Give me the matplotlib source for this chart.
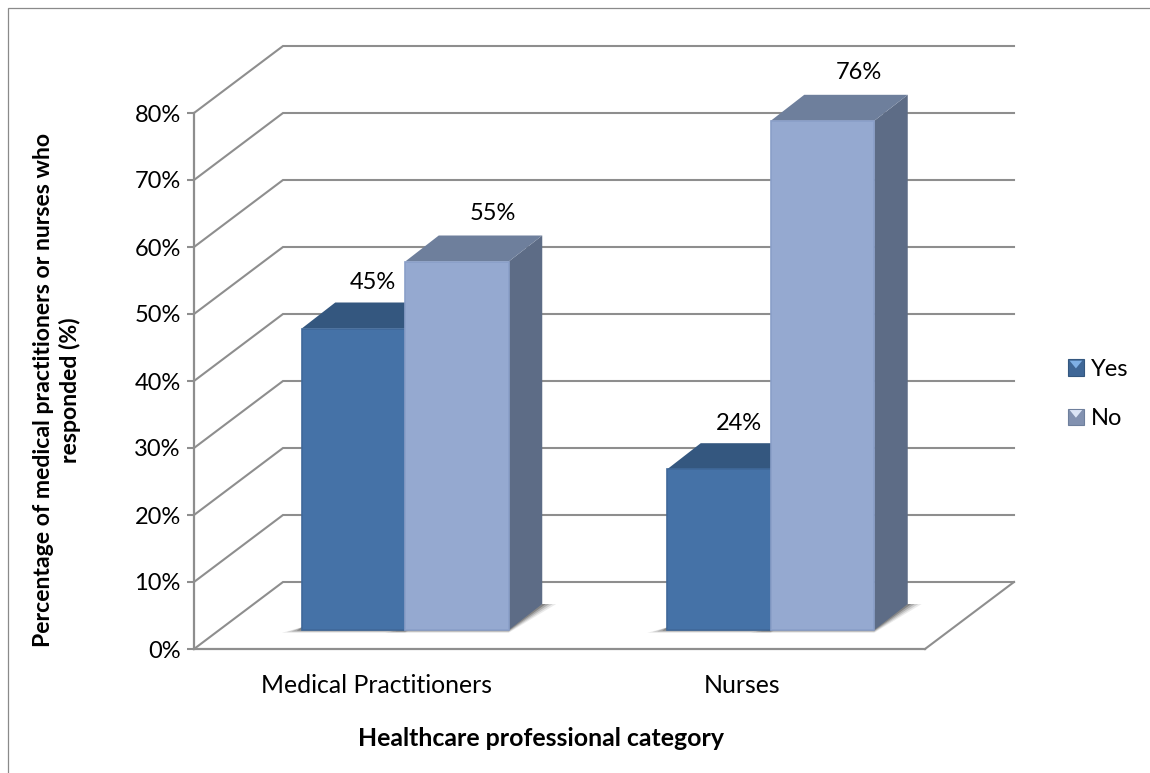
import matplotlib
matplotlib.use("Agg")
import matplotlib.pyplot as plt
from matplotlib.legend_handler import HandlerBase
from matplotlib.patches import Patch, Polygon, Rectangle

categories = ["Medical Practitioners", "Nurses"]
yes_values = [45, 24]
no_values = [55, 76]
grid_levels = [0, 10, 20, 30, 40, 50, 60, 70, 80]
y_ticks = [0, 10, 20, 30, 40, 50, 60, 70, 80]

plt.rcParams["font.family"] = ["Lato", "DejaVu Sans"]

W, H = 1150, 773
PX = 731 / 2      # px per category
PY = 536 / 80     # px per percent

wall_dx, wall_dy = 89 / PX, 67 / PY
floor_dx, floor_dy = 28.5 / PX, 19 / PY
bar_dx, bar_dy = 33.5 / PX, 26 / PY
bar_w = 103.5 / PX

GRID = "#8e8e8e"
FS = 17

fig = plt.figure(figsize=(W / 100, H / 100), dpi=100)
ax = fig.add_axes([194 / W, (H - 649) / H, 731 / W, 536 / H])
ax.set_xlim(0, 2)
ax.set_ylim(0, 80)
ax.set_facecolor("none")

# outer frame of the pasted chart
fig.add_artist(Rectangle((7.5 / W, -0.1), 1.2, (H - 8) / H + 0.1, transform=fig.transFigure,
                         fill=False, ec="#8a8a8a", lw=0.9))

# back wall and floor
for v in grid_levels:
    ax.plot([0, wall_dx, 2 + wall_dx], [v, v + wall_dy, v + wall_dy],
            color=GRID, lw=1.5, clip_on=False, zorder=1, solid_joinstyle="miter")
ax.plot([2, 2 + wall_dx], [0, wall_dy], color=GRID, lw=1.5, clip_on=False, zorder=1)


def draw_bar(x, v, front, top, side, edge, z):
    y0 = floor_dy
    # soft floor shadow
    for grow, a in [(20, 0.10), (15, 0.16), (10, 0.24), (5, 0.36)]:
        g = grow / PX
        s = grow / PY * 0.14
        ax.add_patch(Polygon([(x - g, y0 - s), (x + bar_w, y0 - s),
                              (x + bar_w + bar_dx + g * 0.7, y0 + bar_dy),
                              (x + bar_w + bar_dx, y0 + bar_dy), (x, y0 + 0.4)],
                             fc="#404040", ec="none", alpha=a, clip_on=False, zorder=z - 1))
    ax.add_patch(Polygon([(x + bar_w, y0), (x + bar_w + bar_dx, y0 + bar_dy),
                          (x + bar_w + bar_dx, y0 + v + bar_dy), (x + bar_w, y0 + v)],
                         fc=side, ec="none", clip_on=False, zorder=z))
    ax.add_patch(Polygon([(x, y0 + v), (x + bar_w, y0 + v),
                          (x + bar_w + bar_dx, y0 + v + bar_dy), (x + bar_dx, y0 + v + bar_dy)],
                         fc=top, ec="none", clip_on=False, zorder=z))
    ax.bar(x, v, bar_w, bottom=y0, align="edge", color=front, edgecolor=edge, linewidth=1.2,
           clip_on=False, zorder=z + 0.5)


DARK = dict(front="#4572a7", top="#34577f", side="#34577f", edge="#3f6899")
LIGHT = dict(front="#95a9d0", top="#6e7f9c", side="#5d6c86", edge="#8a9fc8")

for i, cat in enumerate(categories):
    x0 = i + 0.5 + floor_dx - bar_w
    draw_bar(x0, yes_values[i], z=3 + 2 * i, **DARK)
    draw_bar(x0 + bar_w, no_values[i], z=4 + 2 * i, **LIGHT)
    ax.annotate(f"{yes_values[i]}%", (x0 + bar_w / 2, floor_dy + yes_values[i]),
                xytext=(19.5, 46), textcoords="offset pixels", ha="center", va="center",
                fontsize=FS, color="black", zorder=20, annotation_clip=False)
    ax.annotate(f"{no_values[i]}%", (x0 + bar_w * 1.5, floor_dy + no_values[i]),
                xytext=(36, 48), textcoords="offset pixels", ha="center", va="center",
                fontsize=FS, color="black", zorder=20, annotation_clip=False)

for s in ["top", "right"]:
    ax.spines[s].set_visible(False)
for s in ["left", "bottom"]:
    ax.spines[s].set_color(GRID)
    ax.spines[s].set_linewidth(1.6)
    ax.spines[s].set_zorder(2)

ax.set_yticks(y_ticks)
ax.set_yticklabels([f"{t}%" for t in y_ticks], fontsize=FS)
ax.tick_params(axis="y", length=5, width=1.5, color=GRID, pad=4.5)
ax.set_xticks([0.5, 1.5])
ax.set_xticklabels(categories, fontsize=17.9)
ax.tick_params(axis="x", length=0, pad=18)

fig.text(540.5 / W, (H - 738) / H, "Healthcare professional category", ha="center", va="center",
         fontsize=17.9, fontweight="bold")
fig.text(57 / W, (H - 390) / H, "Percentage of medical practitioners or nurses who\nresponded (%)",
         rotation=90, ha="center", va="center", multialignment="center",
         fontsize=16.6, fontweight="bold", linespacing=1.25)


class BevelSquare(HandlerBase):
    def create_artists(self, legend, orig, xd, yd, w, h, fs, trans):
        face = Rectangle((xd, yd), w, h, fc=orig.get_facecolor(), ec=orig.get_edgecolor(),
                         lw=0.8, transform=trans)
        tri = Polygon([(xd + 1, yd + h - 1), (xd + w - 1, yd + h - 1), (xd + w / 2, yd + h * 0.45)],
                      fc=orig.get_gid(), ec="none", transform=trans)
        return [face, tri]


h_yes = Patch(fc="#3f6797", ec="#34577f", gid="#7fb0e6", label="Yes")
h_no = Patch(fc="#8291b0", ec="#6e7f9c", gid="#dbe4f5", label="No")
fig.legend(handles=[h_yes, h_no], loc="center left", bbox_to_anchor=(1047 / W, (H - 394) / H),
           frameon=False, fontsize=FS, handler_map={Patch: BevelSquare()},
           handlelength=0.65, handleheight=0.7, handletextpad=0.3, labelspacing=1.2)

fig.savefig("out.png", dpi=100)
